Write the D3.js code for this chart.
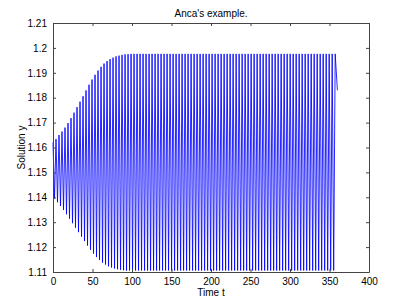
<!DOCTYPE html>
<html>
<head>
<meta charset="utf-8">
<script src="https://cdn.jsdelivr.net/npm/d3@7"></script>
<style>
body { margin: 0; background: #fff; }
text { font-family: "Liberation Sans", Arial, sans-serif; }
</style>
</head>
<body>
<svg width="407" height="306"></svg>
<script>
// oscillation: one upper and one lower peak per cycle
var period = 3.8;
var upperPeaks = [1.1620, 1.1634, 1.1650, 1.1664, 1.1680, 1.1698, 1.1718, 1.1740, 1.1762, 1.1784,
  1.1806, 1.1829, 1.1852, 1.1873, 1.1892, 1.1909, 1.1924, 1.1937, 1.1947, 1.1955,
  1.1961, 1.1966, 1.1969, 1.1972, 1.1974, 1.1975, 1.1976, 1.1976, 1.1976, 1.1976,
  1.1976, 1.1976, 1.1976, 1.1976, 1.1976, 1.1976, 1.1976, 1.1976, 1.1976, 1.1976,
  1.1976, 1.1976, 1.1976, 1.1976, 1.1976, 1.1976, 1.1976, 1.1976, 1.1976, 1.1976,
  1.1976, 1.1976, 1.1976, 1.1976, 1.1976, 1.1976, 1.1976, 1.1976, 1.1976, 1.1976,
  1.1976, 1.1976, 1.1976, 1.1976, 1.1976, 1.1976, 1.1976, 1.1976, 1.1976, 1.1976,
  1.1976, 1.1976, 1.1976, 1.1976, 1.1976, 1.1976, 1.1976, 1.1976, 1.1976, 1.1976,
  1.1976, 1.1976, 1.1976, 1.1976, 1.1976, 1.1976, 1.1976, 1.1976, 1.1976, 1.1976,
  1.1976, 1.1976, 1.1976, 1.1976, 1.1976];
var lowerPeaks = [1.1395, 1.1380, 1.1365, 1.1349, 1.1332, 1.1314, 1.1296, 1.1278, 1.1260, 1.1242,
  1.1224, 1.1206, 1.1189, 1.1174, 1.1160, 1.1148, 1.1138, 1.1130, 1.1123, 1.1118,
  1.1114, 1.1111, 1.1109, 1.1107, 1.1106, 1.1106, 1.1106, 1.1106, 1.1106, 1.1106,
  1.1106, 1.1106, 1.1106, 1.1106, 1.1106, 1.1106, 1.1106, 1.1106, 1.1106, 1.1106,
  1.1106, 1.1106, 1.1106, 1.1106, 1.1106, 1.1106, 1.1106, 1.1106, 1.1106, 1.1106,
  1.1106, 1.1106, 1.1106, 1.1106, 1.1106, 1.1106, 1.1106, 1.1106, 1.1106, 1.1106,
  1.1106, 1.1106, 1.1106, 1.1106, 1.1106, 1.1106, 1.1106, 1.1106, 1.1106, 1.1106,
  1.1106, 1.1106, 1.1106, 1.1106, 1.1106, 1.1106, 1.1106, 1.1106, 1.1106, 1.1106,
  1.1106, 1.1106, 1.1106, 1.1106, 1.1106, 1.1106, 1.1106, 1.1106, 1.1106, 1.1106,
  1.1106, 1.1106, 1.1106, 1.1106];
var lastPoint = [360, 1.183];

var xTicks = [0, 50, 100, 150, 200, 250, 300, 350, 400];
var yTicks = [1.11, 1.12, 1.13, 1.14, 1.15, 1.16, 1.17, 1.18, 1.19, 1.2, 1.21];

var svg = d3.select("svg"),
margin = {left: 53, right: 38, top: 23, bottom: 34},
width = +svg.attr("width") - margin.left - margin.right,
height = +svg.attr("height") - margin.top - margin.bottom;

var x = d3.scaleLinear().domain([0, 400]).range([margin.left, margin.left + width]);
var y = d3.scaleLinear().domain([1.11, 1.21]).range([margin.top + height, margin.top]);

// zigzag: upper peak, lower peak, upper peak ...
var pts = [];
upperPeaks.forEach(function(u, k) {
  pts.push([k * period, u]);
  if (k < lowerPeaks.length) pts.push([k * period + period / 2, lowerPeaks[k]]);
});
pts.push(lastPoint);

var line = d3.line()
.x(function(d) { return x(d[0]); })
.y(function(d) { return y(d[1]); });

svg.append("path")
.datum(pts)
.attr("fill", "none")
.attr("stroke", "#0000ff")
.attr("stroke-width", 0.85)
.attr("d", line);

var fmt = function(v) { return String(+v.toFixed(2)); };
var tl = 3;

// axes, ticks pointing in (matlab style)
svg.append("g").attr("transform", "translate(0," + (margin.top + height) + ")")
.call(d3.axisBottom(x).tickValues(xTicks).tickSizeInner(-tl).tickSizeOuter(0).tickPadding(6).tickFormat(fmt));
svg.append("g").attr("transform", "translate(0," + margin.top + ")")
.call(d3.axisTop(x).tickValues(xTicks).tickSizeInner(-tl).tickSizeOuter(0).tickFormat(""));
svg.append("g").attr("transform", "translate(" + margin.left + ",0)")
.call(d3.axisLeft(y).tickValues(yTicks).tickSizeInner(-tl).tickSizeOuter(0).tickPadding(6).tickFormat(fmt));
svg.append("g").attr("transform", "translate(" + (margin.left + width) + ",0)")
.call(d3.axisRight(y).tickValues(yTicks).tickSizeInner(-tl).tickSizeOuter(0).tickFormat(""));

svg.selectAll(".domain, .tick line").attr("stroke", "#444").attr("stroke-width", 1);
svg.selectAll(".tick text").attr("fill", "#000").style("font-size", "10px");

svg.append("text")
.attr("x", margin.left + width / 2)
.attr("y", 17)
.attr("text-anchor", "middle")
.style("font-size", "10px")
.text("Anca's example.");

svg.append("text")
.attr("x", margin.left + width / 2)
.attr("y", 296)
.attr("text-anchor", "middle")
.style("font-size", "10px")
.text("Time t");

svg.append("text")
.attr("transform", "translate(25," + (margin.top + height / 2) + ") rotate(-90)")
.attr("text-anchor", "middle")
.style("font-size", "10px")
.text("Solution y");
</script>
</body>
</html>
